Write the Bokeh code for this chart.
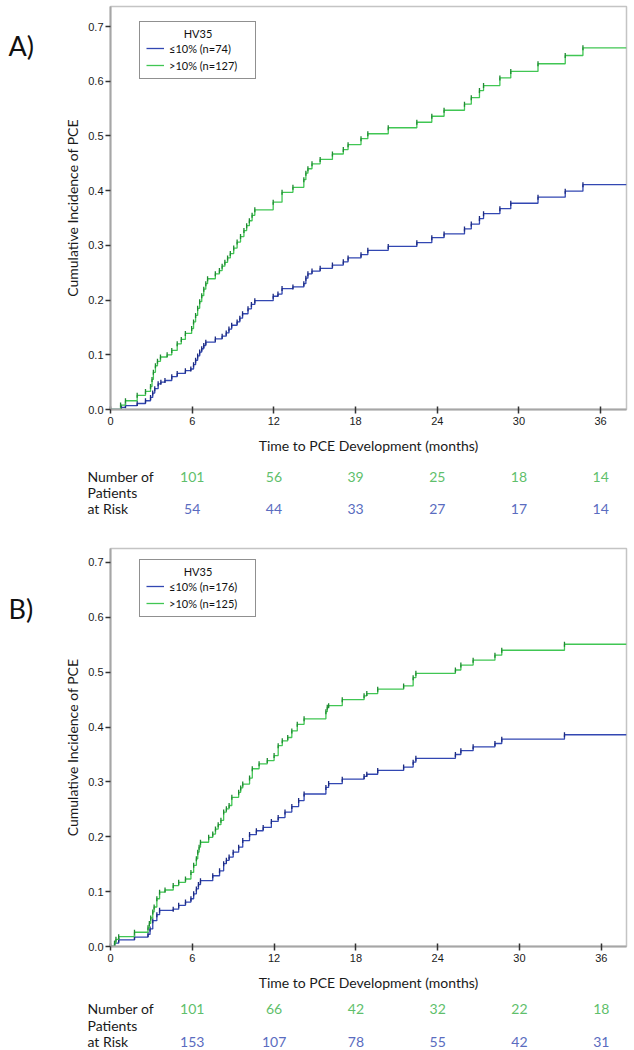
import numpy as np
from bokeh.plotting import figure
from bokeh.models import Range1d, FixedTicker, NumeralTickFormatter, Legend, LegendItem
from bokeh.core.properties import value
from bokeh.layouts import column, row
from bokeh.embed import file_html
from bokeh.resources import INLINE

# ---------------- data ----------------
# Panel A: cumulative incidence of PCE (step events: time in months, cumulative value)
A_LOW_T = [0.8, 1.1, 1.96, 2.57, 2.94, 3.1, 3.25, 3.5, 3.7, 4.0, 4.5, 4.9, 5.5, 5.9, 6.1, 6.25, 6.4,
           6.55, 6.7, 6.85, 7.0, 7.7, 8.2, 8.5, 8.7, 8.9, 9.3, 9.5, 9.7, 10.1, 10.35, 10.6, 11.95,
           12.3, 12.6, 13.4, 14.2, 14.35, 14.5, 14.8, 15.4, 16.3, 17.1, 17.45, 18.4, 18.9, 20.4,
           22.5, 23.6, 24.5, 26.0, 26.5, 27.1, 27.4, 28.6, 29.4, 31.4, 33.4, 34.7]
A_LOW_Y = [0.004, 0.007, 0.011, 0.016, 0.022, 0.030, 0.038, 0.047, 0.050, 0.053, 0.060, 0.066, 0.071,
           0.074, 0.082, 0.090, 0.098, 0.105, 0.111, 0.117, 0.123, 0.129, 0.134, 0.140, 0.147, 0.154,
           0.160, 0.167, 0.175, 0.184, 0.192, 0.199, 0.207, 0.211, 0.221, 0.224, 0.230, 0.240, 0.248,
           0.253, 0.258, 0.264, 0.270, 0.277, 0.283, 0.291, 0.298, 0.305, 0.314, 0.321, 0.330, 0.339,
           0.349, 0.358, 0.367, 0.377, 0.388, 0.399, 0.411]
A_HIGH_T = [0.74, 1.1, 1.96, 2.57, 2.94, 3.05, 3.15, 3.3, 3.45, 3.67, 4.16, 4.5, 4.9, 5.2, 5.5, 5.96,
            6.1, 6.25, 6.4, 6.55, 6.7, 6.85, 7.0, 7.13, 7.7, 8.0, 8.2, 8.4, 8.6, 8.8, 9.05, 9.3, 9.55,
            9.8, 10.0, 10.2, 10.4, 10.6, 11.95, 12.6, 13.4, 14.2, 14.35, 14.5, 14.8, 15.4, 16.3, 17.1,
            17.45, 18.4, 18.9, 20.4, 22.5, 23.6, 24.5, 26.0, 26.5, 27.1, 27.4, 28.6, 29.4, 31.4, 33.4, 34.7]
A_HIGH_Y = [0.008, 0.016, 0.026, 0.033, 0.042, 0.055, 0.068, 0.080, 0.088, 0.096, 0.100, 0.108, 0.120,
            0.128, 0.139, 0.148, 0.160, 0.172, 0.185, 0.197, 0.208, 0.220, 0.230, 0.239, 0.248, 0.254,
            0.262, 0.269, 0.277, 0.285, 0.295, 0.306, 0.316, 0.327, 0.336, 0.345, 0.355, 0.365, 0.379,
            0.397, 0.406, 0.420, 0.432, 0.440, 0.449, 0.457, 0.467, 0.475, 0.484, 0.495, 0.504, 0.515,
            0.525, 0.536, 0.547, 0.558, 0.570, 0.583, 0.592, 0.606, 0.618, 0.632, 0.647, 0.661]
A_END = 37.9

# Panel B
B_LOW_T = [0.3, 0.6, 1.76, 2.75, 2.9, 3.1, 3.4, 3.6, 4.6, 5.0, 5.5, 5.9, 6.1, 6.3, 6.45, 6.6, 7.5, 8.0,
           8.3, 8.5, 8.7, 9.0, 9.4, 9.7, 10.2, 10.7, 11.2, 11.8, 12.3, 12.8, 13.3, 13.8, 14.2, 15.8,
           16.0, 17.0, 18.6, 18.8, 19.6, 21.5, 22.2, 22.4, 25.3, 25.7, 26.6, 28.2, 28.7, 33.3]
B_LOW_Y = [0.006, 0.012, 0.017, 0.022, 0.032, 0.047, 0.058, 0.066, 0.068, 0.075, 0.081, 0.087, 0.096,
           0.105, 0.113, 0.120, 0.129, 0.138, 0.151, 0.157, 0.163, 0.172, 0.181, 0.193, 0.204, 0.211,
           0.217, 0.228, 0.235, 0.245, 0.255, 0.266, 0.278, 0.290, 0.297, 0.305, 0.310, 0.314, 0.321,
           0.327, 0.336, 0.343, 0.350, 0.357, 0.364, 0.370, 0.378, 0.386]
B_HIGH_T = [0.3, 0.4, 0.6, 1.76, 2.75, 2.85, 2.95, 3.1, 3.2, 3.4, 3.6, 4.0, 4.6, 5.0, 5.5, 5.9, 6.1, 6.3,
            6.4, 6.5, 6.6, 7.2, 7.5, 7.7, 7.9, 8.1, 8.3, 8.5, 8.7, 8.9, 9.4, 9.55, 9.7, 10.2, 10.4,
            10.9, 11.5, 12.0, 12.3, 12.6, 13.0, 13.3, 13.7, 14.2, 15.8, 15.9, 16.0, 17.0, 18.6, 18.8,
            19.6, 21.5, 22.2, 22.4, 25.3, 25.7, 26.6, 28.2, 28.7, 33.3]
B_HIGH_Y = [0.006, 0.013, 0.018, 0.026, 0.034, 0.042, 0.052, 0.063, 0.072, 0.087, 0.099, 0.103, 0.111,
            0.117, 0.123, 0.135, 0.148, 0.160, 0.172, 0.181, 0.190, 0.199, 0.205, 0.214, 0.222, 0.230,
            0.245, 0.251, 0.257, 0.272, 0.281, 0.289, 0.296, 0.307, 0.324, 0.333, 0.339, 0.348, 0.366,
            0.375, 0.381, 0.393, 0.405, 0.415, 0.428, 0.436, 0.439, 0.450, 0.457, 0.461, 0.469, 0.475,
            0.490, 0.498, 0.504, 0.513, 0.522, 0.531, 0.540, 0.551]
B_END = 37.85

RISK_TIMES = [6, 12, 18, 24, 30, 36]
A_RISK_HIGH = [101, 56, 39, 25, 18, 14]
A_RISK_LOW = [54, 44, 33, 27, 17, 14]
B_RISK_HIGH = [101, 66, 42, 32, 22, 18]
B_RISK_LOW = [153, 107, 78, 55, 42, 31]

X_TICKS = [0, 6, 12, 18, 24, 30, 36]
Y_TICKS = [0.0, 0.1, 0.2, 0.3, 0.4, 0.5, 0.6, 0.7]

A_LABELS = ["\u226410% (n=74)", ">10% (n=127)"]
B_LABELS = ["\u226410% (n=176)", ">10% (n=125)"]
LEGEND_TITLE = "HV35"
X_TITLE = "Time to PCE Development (months)"
Y_TITLE = "Cumulative Incidence of PCE"
RISK_HEAD = ["Number of", "Patients", "at Risk"]

# ---------------- style ----------------
GREEN = "#40c653"
GREEN_DARK = "#1f8a32"
BLUE = "#3247b2"
BLUE_DARK = "#1c2a80"
GREEN_TXT = "#5fbf6c"
BLUE_TXT = "#5a6cc0"
FONT = "Lato"
TOTAL_W = 628
LAB_W = 40          # strip holding the panel letter
FRAME_LEFT = 110    # frame left edge measured from the page's left
FRAME_RIGHT_PAD = 2


def steps(t, y, end):
    xs = [0.0] + list(t) + [end]
    ys = [0.0] + list(y) + [y[-1]]
    return xs, ys


def blank(width, height, x_range, y_range):
    f = figure(width=width, height=height, output_backend="svg", toolbar_location=None,
               x_range=x_range, y_range=y_range, x_axis_location=None, y_axis_location=None,
               min_border=0)
    f.xgrid.visible = False
    f.ygrid.visible = False
    f.outline_line_color = None
    f.background_fill_color = "white"
    f.border_fill_color = "white"
    return f


def panel(name, low_t, low_y, high_t, high_y, end, ymax, labels, height, top, bottom,
          letter_y, legend_top_off):
    w = TOTAL_W - LAB_W
    p = figure(width=w, height=height, output_backend="svg", toolbar_location=None,
               x_range=Range1d(0, end), y_range=Range1d(0, ymax),
               min_border_left=FRAME_LEFT - LAB_W, min_border_right=FRAME_RIGHT_PAD,
               min_border_top=top, min_border_bottom=bottom)
    frame_h = height - top - bottom
    frame_w = w - (FRAME_LEFT - LAB_W) - FRAME_RIGHT_PAD
    p.xgrid.visible = False
    p.ygrid.visible = False
    p.outline_line_color = "#c4c4c4"
    p.outline_line_width = 1.5
    p.background_fill_color = "white"
    p.border_fill_color = "white"

    for ax in (p.xaxis[0], p.yaxis[0]):
        ax.axis_line_color = "#a6a6a6"
        ax.axis_line_width = 2
        ax.major_tick_line_color = "#333333"
        ax.major_tick_line_width = 1.5
        ax.minor_tick_line_color = None
        ax.major_label_text_font = "Liberation Sans"
        ax.major_label_text_font_size = "11px"
        ax.major_label_text_color = "#1a1a1a"
        ax.axis_label_text_font = FONT
        ax.axis_label_text_font_size = "14px"
        ax.axis_label_text_font_style = "normal"
        ax.axis_label_text_color = "#1a1a1a"
    p.xaxis.ticker = FixedTicker(ticks=X_TICKS)
    p.yaxis.ticker = FixedTicker(ticks=Y_TICKS)
    p.yaxis.formatter = NumeralTickFormatter(format="0.0")
    p.xaxis.major_tick_in = 3
    p.xaxis.major_tick_out = 4
    p.yaxis.major_tick_in = 0
    p.yaxis.major_tick_out = 5
    p.xaxis.major_label_standoff = 3
    p.yaxis.major_label_standoff = 2
    p.xaxis.axis_label = X_TITLE
    p.yaxis.axis_label = Y_TITLE
    p.xaxis.axis_label_standoff = 9
    p.yaxis.axis_label_standoff = 4

    xs, ys = steps(low_t, low_y, end)
    r_low = p.step(xs, ys, mode="after", line_color=BLUE, line_width=1.3)
    p.scatter(low_t, low_y, marker="dash", angle=np.pi / 2, size=5,
              line_color=BLUE_DARK, line_width=1.3)
    xs, ys = steps(high_t, high_y, end)
    r_high = p.step(xs, ys, mode="after", line_color=GREEN, line_width=1.3)
    p.scatter(high_t, high_y, marker="dash", angle=np.pi / 2, size=5,
              line_color=GREEN_DARK, line_width=1.3)

    # legend box (title drawn centered as text beneath a transparent legend)
    leg_h = 57
    legend = Legend(items=[LegendItem(label=labels[0], renderers=[r_low]),
                           LegendItem(label=labels[1], renderers=[r_high])],
                    location=(29, frame_h - legend_top_off - leg_h),
                    title=" ", title_text_font_size="11px", title_standoff=1,
                    label_text_font=FONT, label_text_font_size="11px",
                    label_text_color="#111111",
                    glyph_width=18, glyph_height=14, label_height=14, label_width=80,
                    label_standoff=5, spacing=3, padding=6, margin=0,
                    border_line_color="#222222", border_line_width=1,
                    background_fill_alpha=0.0)
    p.add_layout(legend)
    px_x = frame_w / end
    px_y = frame_h / ymax
    p.text(x=[(29 + 117 / 2) / px_x], y=[ymax - (legend_top_off + 11) / px_y],
           text=[LEGEND_TITLE], text_align="center", text_baseline="middle",
           text_font=value(FONT), text_font_size="11px", text_color="#111111")

    # panel letter strip
    lab = blank(LAB_W, height, Range1d(0, LAB_W), Range1d(height, 0))
    lab.text(x=[8], y=[letter_y], text=[name], text_align="left", text_baseline="middle",
             text_font=value(FONT), text_font_size="27px", text_color="#111111")
    return row(lab, p, spacing=0), px_x


def risk_table(risk_high, risk_low, height, rows_y, px_x):
    x0 = -FRAME_LEFT / px_x
    x1 = (TOTAL_W - FRAME_LEFT) / px_x
    f = blank(TOTAL_W, height, Range1d(x0, x1), Range1d(height, 0))
    head_x = -23 / px_x
    f.text(x=[head_x] * 3, y=rows_y, text=RISK_HEAD, text_align="left", text_baseline="middle",
           text_font=value(FONT), text_font_size="14px", text_color="#1a1a1a")
    f.text(x=RISK_TIMES, y=[rows_y[0]] * len(RISK_TIMES), text=[str(n) for n in risk_high],
           text_align="center", text_baseline="middle", text_font=value(FONT),
           text_font_size="14px", text_color=GREEN_TXT)
    f.text(x=RISK_TIMES, y=[rows_y[2]] * len(RISK_TIMES), text=[str(n) for n in risk_low],
           text_align="center", text_baseline="middle", text_font=value(FONT),
           text_font_size="14px", text_color=BLUE_TXT)
    return f


panelA, pxA = panel("A)", A_LOW_T, A_LOW_Y, A_HIGH_T, A_HIGH_Y, A_END, 0.7366, A_LABELS,
                    height=461, top=6, bottom=52, letter_y=45, legend_top_off=16)
riskA = risk_table(A_RISK_HIGH, A_RISK_LOW, 76, [15, 31, 47], pxA)

panelB, pxB = panel("B)", B_LOW_T, B_LOW_Y, B_HIGH_T, B_HIGH_Y, B_END, 0.7255, B_LABELS,
                    height=461, top=11, bottom=52, letter_y=70, legend_top_off=12)
riskB = risk_table(B_RISK_HIGH, B_RISK_LOW, 51, [10, 27, 43], pxB)

layout = column(panelA, riskA, panelB, riskB, spacing=0)
open("out.html", "w").write(file_html(layout, INLINE))
